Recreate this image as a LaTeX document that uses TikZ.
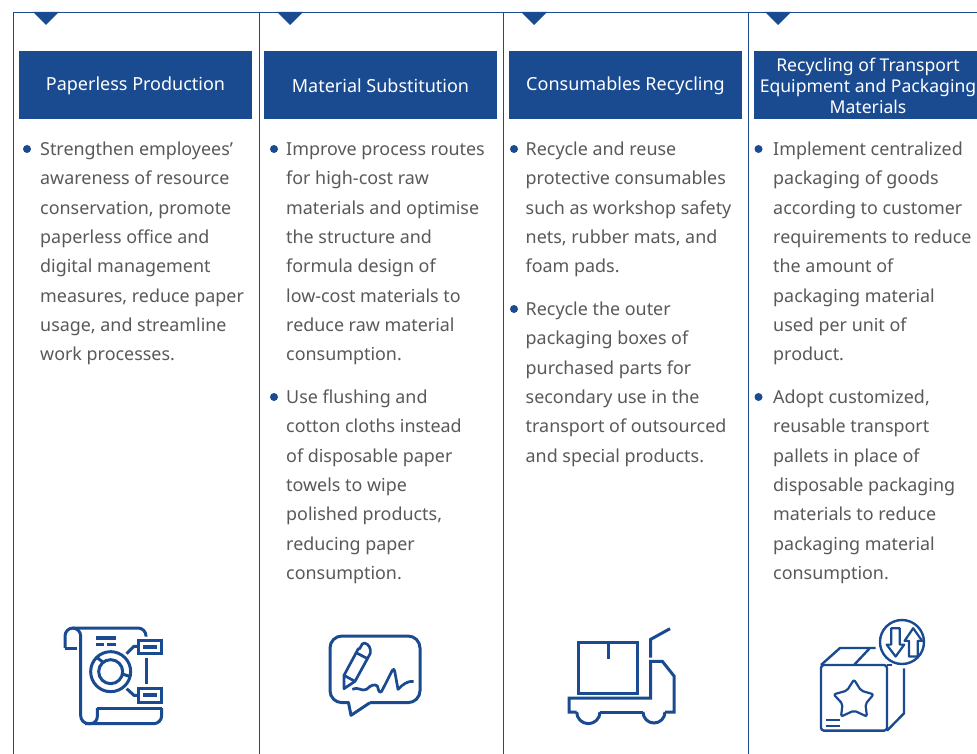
\documentclass[tikz,border=0pt]{standalone}
\usepackage{fontspec}
\setmainfont{Noto Sans}
\definecolor{brand}{HTML}{1A4B91}
\definecolor{bodytext}{HTML}{595959}
\tikzset{
  panelline/.style={draw=brand,line width=1pt},
  marker/.style={fill=brand,draw=none},
  headfill/.style={fill=brand,draw=none},
  headtext/.style={inner sep=0pt,text=white,font=\fontsize{18}{21}\selectfont,align=center},
  bodyline/.style={anchor=base west,inner sep=0pt,text=bodytext,font=\fontsize{17.9}{21}\selectfont,yshift=-0.8pt},
  bulletdot/.style={circle,fill=brand,draw=none,minimum size=8pt,inner sep=0pt},
  icon/.style={draw=brand,line width=3pt,fill=none},
  iconthin/.style={draw=brand,line width=2.4pt,fill=none,line join=round},
  pencil/.style={draw=brand,line width=2.7pt,fill=none,line join=round},
}
\begin{document}
\begin{tikzpicture}[x=1pt,y=-1pt]
\useasboundingbox (0,0) rectangle (977,754);
\clip (0,0) rectangle (977,754);
\fill[white] (0,0) rectangle (977,754);
% panels
\draw[panelline] (13,754) -- (13,12.5) -- (259,12.5) -- (259,754);
\draw[panelline] (259,12.5) -- (503,12.5) -- (503,754);
\draw[panelline] (503,12.5) -- (748,12.5) -- (748,754);
\draw[panelline] (748,12.5) -- (977,12.5);
% markers
\foreach \m in {33,277,521,765}{\fill[marker] (\m,12) -- (\m+26,12) -- (\m+13,25) -- cycle;}
% headers
\foreach \l in {19,264,509,754}{\fill[headfill] (\l,51) rectangle (\l+233,119);}
\node[headtext] (h1) at (135.5,85.5) {Paperless Production};
\node[headtext] (h2) at (380.5,86) {Material Substitution};
\node[headtext] (h3) at (625.5,85.5) {Consumables Recycling};
\node[headtext,font=\fontsize{17.6}{21}\selectfont] (h4) at (868,86) {Recycling of Transport\\Equipment and Packaging\\Materials};
% column 1
\node[bulletdot] (b11) at (27,149) {};
\node[bodyline] (t101) at (40,155) {Strengthen employees’};
\node[bodyline] (t102) at (40,184) {awareness of resource};
\node[bodyline] (t103) at (40,214) {conservation, promote};
\node[bodyline] (t104) at (40,243) {paperless office and};
\node[bodyline] (t105) at (40,272) {digital management};
\node[bodyline] (t106) at (40,302) {measures, reduce paper};
\node[bodyline] (t107) at (40,331) {usage, and streamline};
\node[bodyline] (t108) at (40,360) {work processes.};
% column 2
\node[bulletdot] (b21) at (274,149) {};
\node[bodyline] (t201) at (286,155) {Improve process routes};
\node[bodyline] (t202) at (286,184) {for high-cost raw};
\node[bodyline] (t203) at (286,214) {materials and optimise};
\node[bodyline] (t204) at (286,243) {the structure and};
\node[bodyline] (t205) at (286,272) {formula design of};
\node[bodyline] (t206) at (286,302) {low-cost materials to};
\node[bodyline] (t207) at (286,331) {reduce raw material};
\node[bodyline] (t208) at (286,360) {consumption.};
\node[bulletdot] (b22) at (274,397) {};
\node[bodyline] (t209) at (286,403) {Use flushing and};
\node[bodyline] (t210) at (286,432) {cotton cloths instead};
\node[bodyline] (t211) at (286,462) {of disposable paper};
\node[bodyline] (t212) at (286,491) {towels to wipe};
\node[bodyline] (t213) at (286,520) {polished products,};
\node[bodyline] (t214) at (286,550) {reducing paper};
\node[bodyline] (t215) at (286,579) {consumption.};
% column 3
\node[bulletdot] (b31) at (514,149) {};
\node[bodyline] (t301) at (525.5,155) {Recycle and reuse};
\node[bodyline] (t302) at (525.5,184) {protective consumables};
\node[bodyline] (t303) at (525.5,214) {such as workshop safety};
\node[bodyline] (t304) at (525.5,243) {nets, rubber mats, and};
\node[bodyline] (t305) at (525.5,272) {foam pads.};
\node[bulletdot] (b32) at (514,309) {};
\node[bodyline] (t306) at (525.5,315) {Recycle the outer};
\node[bodyline] (t307) at (525.5,344) {packaging boxes of};
\node[bodyline] (t308) at (525.5,374) {purchased parts for};
\node[bodyline] (t309) at (525.5,403) {secondary use in the};
\node[bodyline] (t310) at (525.5,432) {transport of outsourced};
\node[bodyline] (t311) at (525.5,462) {and special products.};
% column 4
\node[bulletdot] (b41) at (758.5,149) {};
\node[bodyline] (t401) at (773,155) {Implement centralized};
\node[bodyline] (t402) at (773,184) {packaging of goods};
\node[bodyline] (t403) at (773,214) {according to customer};
\node[bodyline] (t404) at (773,243) {requirements to reduce};
\node[bodyline] (t405) at (773,272) {the amount of};
\node[bodyline] (t406) at (773,302) {packaging material};
\node[bodyline] (t407) at (773,331) {used per unit of};
\node[bodyline] (t408) at (773,360) {product.};
\node[bulletdot] (b42) at (758.5,397) {};
\node[bodyline] (t409) at (773,403) {Adopt customized,};
\node[bodyline] (t410) at (773,432) {reusable transport};
\node[bodyline] (t411) at (773,462) {pallets in place of};
\node[bodyline] (t412) at (773,491) {disposable packaging};
\node[bodyline] (t413) at (773,520) {materials to reduce};
\node[bodyline] (t414) at (773,550) {packaging material};
\node[bodyline] (t415) at (773,579) {consumption.};
% icon 1
\begin{scope}[shift={(60,622)},x=0.33333pt,y=-0.33333pt]
\draw[icon,rounded corners=8pt] (15,78) -- (15,18) -- (258,18) -- (258,44);
\draw[icon] (15,78) -- (50,78);
\draw[icon,rounded corners=8pt] (38,18) -- (62,18) -- (62,305) -- (305,305) -- (305,258);
\draw[icon] (306,258) -- (112,258);
\draw[icon,rounded corners=7pt] (112,258) -- (112,305) -- (75,305);
\draw[icon] (235,55) rectangle (305,95);
\draw[icon] (235,198) rectangle (305,240);
\fill[brand] (250,68) rectangle (292,82);
\fill[brand] (250,212) rectangle (292,225);
\fill[brand] (108,42) rectangle (168,54);
\fill[brand] (108,62) rectangle (132,71);
\fill[brand] (142,62) rectangle (168,71);
\draw[icon] (258,108) -- (258,185);
\draw[icon] (200,95) -- (222,73) -- (235,73);
\draw[icon] (200,200) -- (222,220) -- (235,220);
\draw[icon] (152,149) circle (60);
\draw[icon] (152,149) circle (36);
\draw[icon] (110,106) -- (131,122);
\draw[icon] (187,156) -- (212,164);
\end{scope}
% icon 2
\begin{scope}[shift={(325,632)},x=0.33333pt,y=-0.33333pt]
\draw[icon,rounded corners=12pt] (72,212) -- (15,212) -- (15,12) -- (285,12) -- (285,212) -- (135,212);
\draw[icon,line join=round] (70,210) -- (78,250) -- (135,212);
\draw[pencil] (57,170) -- (57,130) -- (100,50) to[out=-60,in=170] (118,33) to[out=-10,in=80] (136,64) -- (90,148) -- cycle;
\draw[pencil] (57,130) -- (90,148);
\draw[pencil] (93,62) -- (128,80);
\draw[pencil] (82,172) .. controls (98,162) and (110,180) .. (125,172) .. controls (135,160) and (150,155) .. (157,162) .. controls (160,170) and (162,188) .. (170,178) -- (202,115) .. controls (205,108) and (208,112) .. (210,122) -- (219,172) .. controls (232,158) and (248,146) .. (266,148);
\end{scope}
% icon 3
\begin{scope}[shift={(555,620)},x=0.33333pt,y=-0.33333pt]
\draw[icon] (70,67) rectangle (246,220);
\draw[icon] (160,67) -- (160,118);
\draw[icon] (287,113) -- (287,58) -- (345,26);
\draw[icon,line join=miter] (65,276) -- (42,276) -- (42,234) -- (287,234) -- (287,124) -- (322,124) -- (357,168) -- (357,276) -- (330,276);
\draw[icon] (135,276) -- (264,276);
\draw[icon] (65,276) arc[start angle=180,end angle=0,radius=35];
\draw[icon] (264,276) arc[start angle=180,end angle=0,radius=33];
\end{scope}
% icon 4
\begin{scope}[shift={(805,610)},x=0.33333pt,y=-0.33333pt]
\draw[iconthin,rounded corners=3pt] (48,165) -- (48,362) -- (246,362) -- (246,165) -- cycle;
\draw[iconthin] (48,165) -- (105,114) -- (212,114);
\draw[iconthin] (147,165) -- (193,116);
\draw[iconthin] (246,165) -- (262,165);
\draw[iconthin] (246,362) -- (297,310) -- (297,175);
\draw[iconthin] (62,330) -- (104,330);
\draw[iconthin] (62,348) -- (104,348);
\end{scope}
\begin{scope}[shift={(810.7,667.7)},x=0.37pt,y=-0.37pt]
\draw[iconthin,line width=2.2pt,rounded corners=2pt] (117,32) -- (136,62) -- (170,72) -- (148,98) -- (152,132) -- (117,116) -- (82,132) -- (86,98) -- (62,72) -- (98,62) -- cycle;
\end{scope}
\begin{scope}[shift={(869.9,610.3)},x=0.373pt,y=-0.373pt]
\draw[iconthin] (86,85) circle (59);
\draw[iconthin,line width=2.2pt] (57,48) -- (80,48) -- (80,92) -- (92,92) -- (69,124) -- (45,92) -- (57,92) -- cycle;
\draw[iconthin,line width=2.2pt] (105,124) -- (128,124) -- (128,82) -- (140,82) -- (116,48) -- (93,82) -- (105,82) -- cycle;
\end{scope}
\end{tikzpicture}
\end{document}
